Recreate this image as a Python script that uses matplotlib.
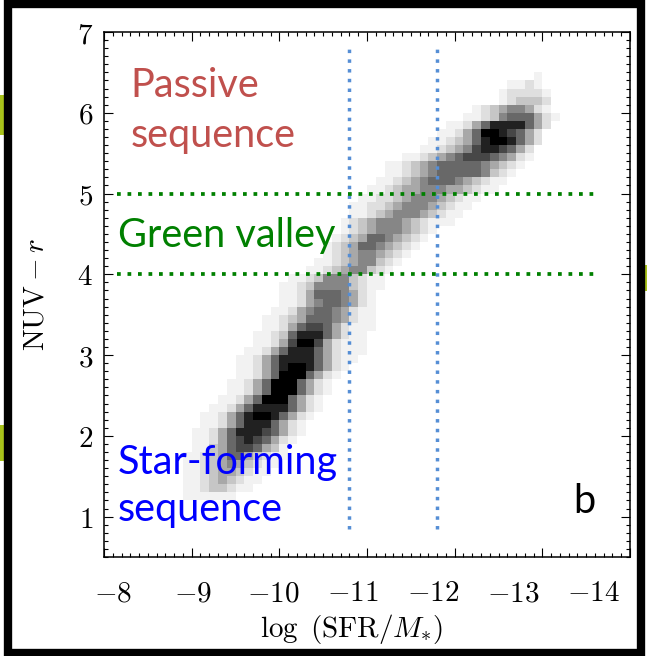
import numpy as np
import matplotlib
matplotlib.use("Agg")
import matplotlib.pyplot as plt
from matplotlib.patches import Rectangle
from matplotlib.ticker import FixedLocator, MultipleLocator
import matplotlib.transforms as mtransforms

plt.rcParams['mathtext.fontset'] = 'cm'

# ---------------- data ----------------
# 2-D histogram of galaxies: one row per NUV-r bin (lower edge), counts given
# as darkness levels 0-9 per log(sSFR) bin, starting at column row_start
# (column 0 spans -8.8 .. -8.9, bins of 0.1 dex going to lower sSFR)
row_y = [1.2, 1.3, 1.4, 1.5, 1.6, 1.7, 1.8, 1.9, 2.0, 2.1, 2.2, 2.3, 2.4, 2.5,
         2.6, 2.7, 2.8, 2.9, 3.0, 3.1, 3.2, 3.3, 3.4, 3.5, 3.6, 3.7, 3.8, 3.9,
         4.0, 4.1, 4.2, 4.3, 4.4, 4.5, 4.6, 4.7, 4.8, 4.9, 5.0, 5.1, 5.2, 5.3,
         5.4, 5.5, 5.6, 5.7, 5.8, 5.9, 6.0, 6.1, 6.2, 6.3, 6.4]
row_start = [1, 1, 1, 1, 1, 1, 2, 2, 2, 3, 3, 4, 5, 6,
             6, 7, 7, 7, 8, 9, 9, 10, 10, 11, 12, 12, 12, 13,
             15, 16, 17, 17, 18, 19, 19, 20, 20, 21, 22, 23, 24, 24,
             26, 28, 29, 30, 31, 33, 34, 37, 37, 38, 41]
row_counts = ["111111", "11233211", "112343211", "1123443211", "11234543211",
              "112346643211", "11346776431", "112467876421", "1124688876421",
              "112468886421", "1124689986421", "1124688886421", "112469996421",
              "112469996421", "112469996421", "112469996421", "1124689986421",
              "11246888864211", "11246888642111", "1124799742111",
              "1123688864211", "1124677642111", "1123466654211", "112456654211",
              "11245665421", "11246665421", "112355553211", "11235553211",
              "1123455321", "1123455321", "1234554321", "12346654321",
              "12346654321", "12345554321", "1234555432111", "1123455543211",
              "11223455543211", "11223455543211", "112344555443211",
              "112345666543211", "112345666665321", "1123456666654321",
              "112345677765421", "1123457887642", "1123468998642",
              "112469987642", "112468888642", "11235666421", "123455421",
              "123332", "122221", "1121", "1"]
x_first_edge = -8.8
x_bin = 0.1
y_bin = 0.1

ssfr_cuts = [-10.8, -11.8]          # blue dotted lines
color_cuts = [4.0, 5.0]             # green dotted lines
xtick_values = [-8, -9, -10, -11, -12, -13, -14]
ytick_values = [1, 2, 3, 4, 5, 6, 7]

# ---------------- figure ----------------
W, H = 647, 656
fig = plt.figure(figsize=(W / 100, H / 100), dpi=100)
fig.patch.set_facecolor('white')

# slide remnants and black frame
for (x0, y0, w, h) in [(0, 95, 12, 40), (0, 425, 12, 36), (641, 265, 6, 26)]:
    fig.add_artist(Rectangle((x0 / W, 1 - (y0 + h) / H), w / W, h / H,
                             transform=fig.transFigure, facecolor='#A8C21A',
                             edgecolor='none', zorder=0))
fig.add_artist(Rectangle((7.5 / W, 1 - 653 / H), (640.5 - 7.5) / W, (653 - 3.5) / H,
                         transform=fig.transFigure, facecolor='none',
                         edgecolor='black', linewidth=6.0, zorder=5))

ax = fig.add_axes([104 / W, 1 - 557 / H, 526 / W, 525 / H])

# histogram grid
ncols = max(s + len(c) for s, c in zip(row_start, row_counts))
nrows = len(row_y)
Z = np.zeros((nrows, ncols))
for i, (s, c) in enumerate(zip(row_start, row_counts)):
    for j, ch in enumerate(c):
        Z[i, s + j] = int(ch)
xedges = x_first_edge - x_bin * np.arange(ncols + 1)
yedges = row_y[0] + y_bin * np.arange(nrows + 1)
ax.pcolormesh(xedges, yedges, np.ma.masked_equal(Z, 0), cmap='Greys',
              vmin=0, vmax=9, shading='flat', antialiased=False, zorder=1)

# dotted dividing lines
dot = (0, (1, 1.8))
for xc in ssfr_cuts:
    ax.plot([xc, xc], [0.85, 6.8], color='#558ED5', lw=2.5, ls=dot, zorder=3)
for yc in color_cuts:
    ax.plot([-8.15, -13.63], [yc, yc], color='#008000', lw=2.7, ls=dot, zorder=3)

ax.set_xlim(-8, -14)
ax.set_ylim(0.5, 7)

# ticks
ax.xaxis.set_major_locator(FixedLocator(xtick_values))
ax.xaxis.set_minor_locator(MultipleLocator(0.1))
ax.yaxis.set_major_locator(FixedLocator(ytick_values))
ax.yaxis.set_minor_locator(MultipleLocator(0.1))
ax.tick_params(which='both', direction='in', top=True, right=True, width=0.8)
ax.tick_params(which='major', length=6.5)
ax.tick_params(which='minor', length=3.2)
ax.tick_params(axis='x', labelbottom=False)
ax.set_yticklabels([f'${v}$' for v in ytick_values], fontsize=21)
ax.tick_params(axis='y', pad=8)
for sp in ax.spines.values():
    sp.set_linewidth(1.1)

# x tick labels (drawn slightly compressed, as in the original figure)
trans = mtransforms.blended_transform_factory(ax.transAxes, ax.transAxes)
for k, v in enumerate(xtick_values):
    xf = (9 + 80 * k) / 526
    ax.text(xf, -36 / 525, f'${v}$', transform=trans, ha='center', va='center',
            fontsize=21)

ax.set_xlabel(r'$\log\ (\mathrm{SFR}/M_{*})$', fontsize=21, va='center')
ax.xaxis.set_label_coords((352 - 104) / 526, (557 - 629) / 525)
ax.set_ylabel(r'$\mathrm{NUV}-r$', fontsize=21, va='center')
ax.yaxis.set_label_coords((36 - 104) / 526, (557 - 294) / 525)

# region annotations
tf = 'Lato'
fs = 28.5
ax.text(-8.30, 6.19, 'Passive', color='#C0504D', fontsize=fs, family=tf, va='baseline')
ax.text(-8.30, 5.57, 'sequence', color='#C0504D', fontsize=fs, family=tf, va='baseline')
ax.text(-8.16, 4.34, 'Green valley', color='#008000', fontsize=fs, family=tf, va='baseline')
ax.text(-8.16, 1.53, 'Star-forming', color='#0000FF', fontsize=fs, family=tf, va='baseline')
ax.text(-8.16, 0.95, 'sequence', color='#0000FF', fontsize=fs, family=tf, va='baseline')
ax.text(-13.35, 1.05, 'b', color='black', fontsize=fs, family=tf, va='baseline')

fig.savefig('out.png', dpi=100)
